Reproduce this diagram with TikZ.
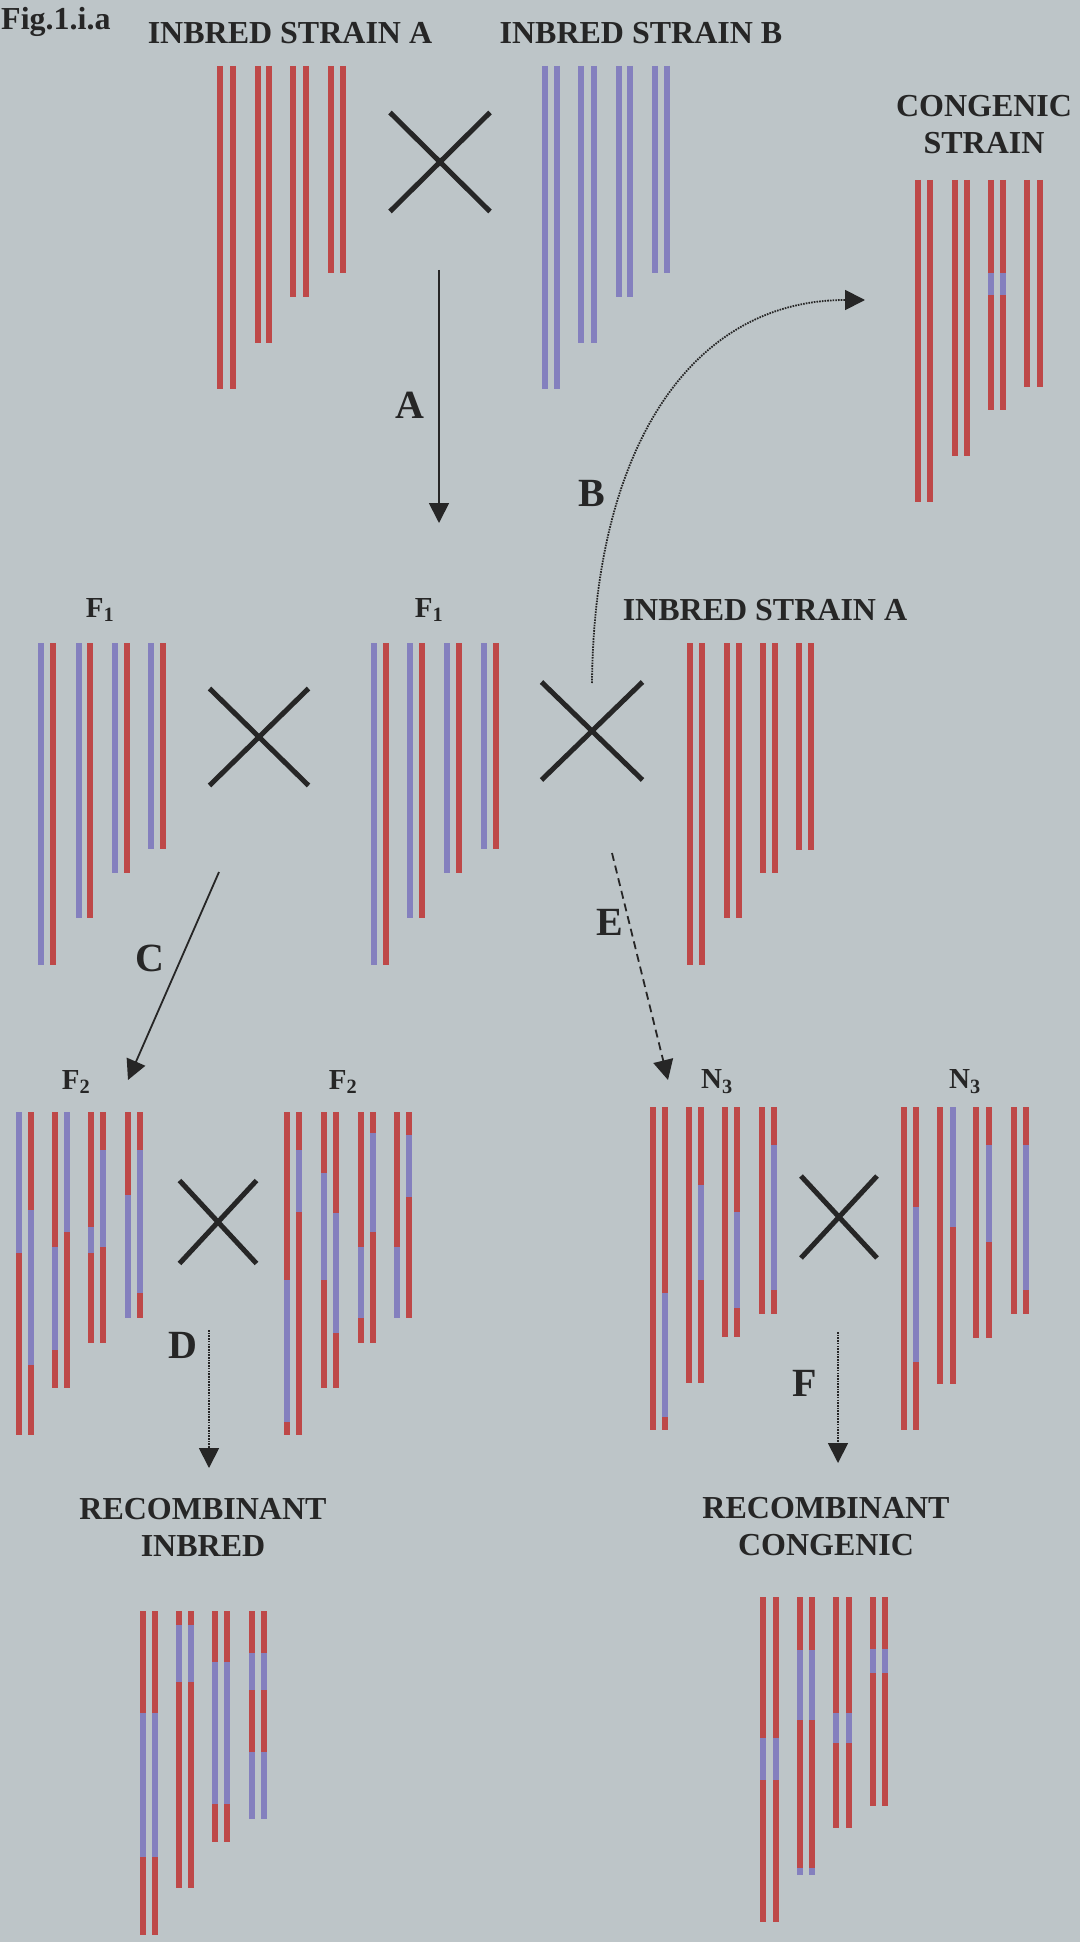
\documentclass[tikz,border=0pt]{standalone}
\usepackage{fontspec}
\setmainfont{Liberation Serif}
\usetikzlibrary{arrows.meta,shapes.misc}

\definecolor{bgc}{RGB}{189,197,200}
\definecolor{redc}{RGB}{190,72,72}
\definecolor{bluec}{RGB}{132,128,190}
\definecolor{inkc}{RGB}{38,38,38}

% one chromatid (or a stretch of one): x, top, bottom
\newcommand\chR[3]{\draw[chr,redc] (#1,#2) -- (#1,#3);}
\newcommand\chB[3]{\draw[chr,bluec] (#1,#2) -- (#1,#3);}

\tikzset{
  chr/.style={line width=6pt, line cap=butt},
  title/.style={font=\fontsize{32}{37}\selectfont\bfseries, text=inkc, inner sep=0pt, align=center},
  gen/.style={font=\fontsize{29}{30}\selectfont\bfseries, text=inkc, inner sep=0pt},
  lbl/.style={font=\fontsize{40}{42}\selectfont\bfseries, text=inkc, inner sep=0pt},
  crossmark/.style={cross out, draw=inkc, line width=5pt, inner sep=0pt},
  link/.style={draw=inkc, line width=1.8pt, -{Triangle[length=20pt,width=20pt]}},
  dotlink/.style={link, dash pattern=on 1.6pt off 1.1pt},
  dashlink/.style={link, dash pattern=on 8pt off 5pt},
}

\begin{document}
\begin{tikzpicture}[x=1pt,y=-1pt]
\fill[bgc] (0,0) rectangle (1080,1942);
\useasboundingbox (0,0) rectangle (1080,1942);

% ---------- headings ----------
\node[title, anchor=base west] (fig) at (1,30) {Fig.1.i.a};
\node[title] (tA) at (290,33) {INBRED STRAIN A};
\node[title] (tB) at (641,33) {INBRED STRAIN B};
\node[title] (tCon) at (984,125) {CONGENIC\\STRAIN};
\node[gen] (f1a) at (100,610) {F\textsubscript{1}};
\node[gen] (f1b) at (429,610) {F\textsubscript{1}};
\node[title] (tA2) at (765,610) {INBRED STRAIN A};
\node[gen] (f2a) at (76,1082) {F\textsubscript{2}};
\node[gen] (f2b) at (343,1082) {F\textsubscript{2}};
\node[gen] (n3a) at (717,1082) {N\textsubscript{3}};
\node[gen] (n3b) at (965,1082) {N\textsubscript{3}};
\node[title] (tRI) at (203,1527) {RECOMBINANT\\INBRED};
\node[title] (tRC) at (826,1527) {RECOMBINANT\\CONGENIC};

% ---------- crosses ----------
\node[crossmark, minimum width=95pt, minimum height=94pt] (x1) at (440,162) {};
\node[crossmark, minimum width=94pt, minimum height=92pt] (x2) at (259,737) {};
\node[crossmark, minimum width=96pt, minimum height=93pt] (x3) at (592,731) {};
\node[crossmark, minimum width=72pt, minimum height=78pt] (x4) at (218,1222) {};
\node[crossmark, minimum width=71pt, minimum height=77pt] (x5) at (839,1217) {};

% ---------- step letters ----------
\node[lbl] (lA) at (410,405) {A};
\node[lbl] (lB) at (592,493) {B};
\node[lbl] (lC) at (150,958) {C};
\node[lbl] (lD) at (183,1345) {D};
\node[lbl] (lE) at (610,922) {E};
\node[lbl] (lF) at (805,1383) {F};

% ---------- arrow ends ----------
\coordinate (aS) at (439,270);  \coordinate (aT) at (439,523);
\coordinate (bS) at (592,683);  \coordinate (bT) at (865,300);
\coordinate (cS) at (219,872);  \coordinate (cT) at (128,1080);
\coordinate (eS) at (612,853);  \coordinate (eT) at (668,1080);
\coordinate (dS) at (209,1330); \coordinate (dT) at (209,1468);
\coordinate (fS) at (838,1332); \coordinate (fT) at (838,1463);

\draw[link] (aS) -- (aT);
\draw[dotlink] (bS) .. controls (594,450) and (690,300) .. (bT);
\draw[link] (cS) -- (cT);
\draw[dashlink] (eS) -- (eT);
\draw[dotlink] (dS) -- (dT);
\draw[dotlink] (fS) -- (fT);

% ---------- inbred strain A ----------
\chR{220}{66}{389} \chR{233}{66}{389}
\chR{258}{66}{343} \chR{269}{66}{343}
\chR{293}{66}{297} \chR{306}{66}{297}
\chR{331}{66}{273} \chR{343}{66}{273}

% ---------- inbred strain B ----------
\chB{545}{66}{389} \chB{557}{66}{389}
\chB{581}{66}{343} \chB{594}{66}{343}
\chB{619}{66}{297} \chB{630}{66}{297}
\chB{655}{66}{273} \chB{667}{66}{273}

% ---------- congenic strain ----------
\chR{918}{180}{502} \chR{930}{180}{502}
\chR{955}{180}{456} \chR{967}{180}{456}
\chR{991}{180}{410} \chR{1003}{180}{410}
\chB{991}{273}{295} \chB{1003}{273}{295}
\chR{1027}{180}{387} \chR{1040}{180}{387}

% ---------- F1 (left) ----------
\chB{41}{643}{965}  \chR{53}{643}{965}
\chB{79}{643}{918}  \chR{90}{643}{918}
\chB{115}{643}{873} \chR{127}{643}{873}
\chB{151}{643}{849} \chR{163}{643}{849}

% ---------- F1 (middle) ----------
\chB{374}{643}{965} \chR{386}{643}{965}
\chB{410}{643}{918} \chR{422}{643}{918}
\chB{447}{643}{873} \chR{459}{643}{873}
\chB{484}{643}{849} \chR{496}{643}{849}

% ---------- inbred strain A (backcross) ----------
\chR{690}{643}{965} \chR{702}{643}{965}
\chR{727}{643}{918} \chR{739}{643}{918}
\chR{763}{643}{873} \chR{775}{643}{873}
\chR{799}{643}{850} \chR{811}{643}{850}

% ---------- F2 (left) ----------
\chR{19}{1112}{1435}  \chB{19}{1112}{1253}
\chR{31}{1112}{1435}  \chB{31}{1210}{1365}
\chR{55}{1112}{1388}  \chB{55}{1247}{1350}
\chR{67}{1112}{1388}  \chB{67}{1112}{1232}
\chR{91}{1112}{1343}  \chB{91}{1227}{1253}
\chR{103}{1112}{1343} \chB{103}{1150}{1247}
\chR{128}{1112}{1318} \chB{128}{1195}{1318}
\chR{140}{1112}{1318} \chB{140}{1150}{1293}

% ---------- F2 (right) ----------
\chR{287}{1112}{1435} \chB{287}{1280}{1422}
\chR{299}{1112}{1435} \chB{299}{1150}{1212}
\chR{324}{1112}{1388} \chB{324}{1173}{1280}
\chR{336}{1112}{1388} \chB{336}{1213}{1333}
\chR{361}{1112}{1343} \chB{361}{1247}{1318}
\chR{373}{1112}{1343} \chB{373}{1133}{1232}
\chR{397}{1112}{1318} \chB{397}{1247}{1318}
\chR{409}{1112}{1318} \chB{409}{1135}{1197}

% ---------- N3 (left) ----------
\chR{653}{1107}{1430} \chR{665}{1107}{1430} \chB{665}{1293}{1417}
\chR{689}{1107}{1383} \chR{701}{1107}{1383} \chB{701}{1185}{1280}
\chR{725}{1107}{1337} \chR{737}{1107}{1337} \chB{737}{1212}{1308}
\chR{762}{1107}{1314} \chR{774}{1107}{1314} \chB{774}{1145}{1290}

% ---------- N3 (right) ----------
\chR{904}{1107}{1430}  \chR{916}{1107}{1430}  \chB{916}{1207}{1362}
\chR{940}{1107}{1384}  \chR{953}{1107}{1384}  \chB{953}{1107}{1227}
\chR{976}{1107}{1338}  \chR{989}{1107}{1338}  \chB{989}{1145}{1242}
\chR{1014}{1107}{1314} \chR{1026}{1107}{1314} \chB{1026}{1145}{1290}

% ---------- recombinant inbred ----------
\chR{143}{1611}{1935} \chR{155}{1611}{1935}
\chB{143}{1713}{1857} \chB{155}{1713}{1857}
\chR{179}{1611}{1888} \chR{191}{1611}{1888}
\chB{179}{1625}{1682} \chB{191}{1625}{1682}
\chR{215}{1611}{1842} \chR{227}{1611}{1842}
\chB{215}{1662}{1804} \chB{227}{1662}{1804}
\chR{252}{1611}{1819} \chR{264}{1611}{1819}
\chB{252}{1653}{1690} \chB{264}{1653}{1690}
\chB{252}{1752}{1819} \chB{264}{1752}{1819}

% ---------- recombinant congenic ----------
\chR{763}{1597}{1922} \chR{776}{1597}{1922}
\chB{763}{1738}{1780} \chB{776}{1738}{1780}
\chR{800}{1597}{1875} \chR{812}{1597}{1875}
\chB{800}{1650}{1720} \chB{812}{1650}{1720}
\chB{800}{1868}{1875} \chB{812}{1868}{1875}
\chR{836}{1597}{1828} \chR{849}{1597}{1828}
\chB{836}{1713}{1743} \chB{849}{1713}{1743}
\chR{873}{1597}{1806} \chR{885}{1597}{1806}
\chB{873}{1649}{1673} \chB{885}{1649}{1673}
\end{tikzpicture}
\end{document}
